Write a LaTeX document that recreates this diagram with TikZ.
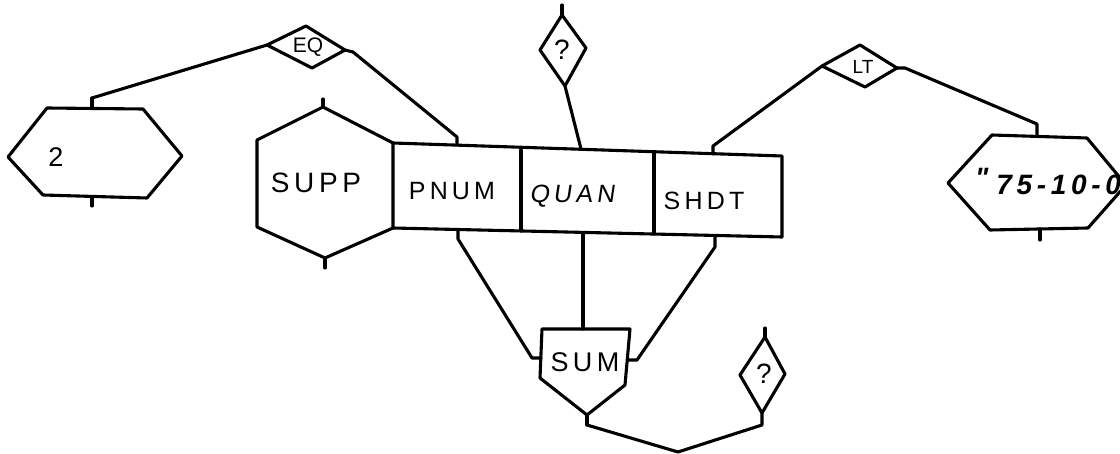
\documentclass[tikz,border=0pt]{standalone}
\usepackage{fontspec}
\setmainfont{Liberation Sans}
\begin{document}
\begin{tikzpicture}[x=1pt,y=-1pt,
  pen/.style={line width=3.1pt, line join=round, line cap=round},
  lbl/.style={inner sep=0pt, font=\fontsize{#1}{#1}\selectfont},
  lbl/.default=25]
\useasboundingbox (0,0) rectangle (1120,454);

% ---- constant hexagon "2"
\coordinate (c2w) at (8,157);   \coordinate (c2nw) at (47,108);
\coordinate (c2ne) at (143,109);\coordinate (c2e) at (182,156);
\coordinate (c2se) at (147,198);\coordinate (c2sw) at (43,195);
\coordinate (c2t) at (92,108);  \coordinate (c2tp) at (92,98);
\coordinate (c2b) at (92,197);  \coordinate (c2bp) at (92,206);
\draw[pen] (c2w)--(c2nw)--(c2ne)--(c2e)--(c2se)--(c2sw)--cycle;
\draw[pen] (c2t)--(c2tp); \draw[pen] (c2b)--(c2bp);
\node[lbl=27] (two) at (56,157) {2};

% ---- comparison diamond EQ
\coordinate (eqw) at (267,45); \coordinate (eqn) at (306,26);
\coordinate (eqe) at (345,50); \coordinate (eqs) at (312,68);
\coordinate (eqep) at (353,52);
\draw[pen] (eqw)--(eqn)--(eqe)--(eqs)--cycle;
\node[lbl=21] (eq) at (308,47) {EQ};

% ---- relation SUPP
\coordinate (sn) at (323,107); \coordinate (sne) at (393,143);
\coordinate (sse) at (393,228);\coordinate (ss) at (325,258);
\coordinate (ssw) at (257,227);\coordinate (snw) at (257,140);
\draw[pen] (sn)--(sne)--(sse)--(ss)--(ssw)--(snw)--cycle;
\coordinate (snp) at (323,99); \coordinate (ssp) at (325,268);
\draw[pen] (sn)--(snp); \draw[pen] (ss)--(ssp);
\node[lbl=28] (supp) at (316,183) {S\,U\,P\,P};

% ---- attribute table
\coordinate (tne) at (782,156); \coordinate (tse) at (782,237);
\coordinate (d1t) at (521,150); \coordinate (d1b) at (521,231);
\coordinate (d2t) at (654,153); \coordinate (d2b) at (654,234);
\draw[pen] (sne)--(tne)--(tse)--(sse);
\draw[pen] (d1t)--(d1b); \draw[pen] (d2t)--(d2b);
\node[lbl] (pnum) at (452,191) {P\,N\,U\,M};
\node[lbl] (quan) at (572,196) {\addfontfeatures{FakeSlant=0.15}Q\,U\,A\,N};
\node[lbl] (shdt) at (704,201) {S\,H\,D\,T};

% ---- stubs on the table
\coordinate (pnt) at (457,145); \coordinate (pntp) at (457,137);
\coordinate (qnt) at (581,149);
\coordinate (sht) at (713,154); \coordinate (shtp) at (713,146);
\coordinate (pnb) at (458,230); \coordinate (pnbp) at (458,239);
\coordinate (qnb) at (583,233);
\coordinate (shb) at (715,236); \coordinate (shbp) at (715,247);

% ---- question diamond above QUAN
\coordinate (q1n) at (562,15); \coordinate (q1e) at (586,48);
\coordinate (q1s) at (565,86); \coordinate (q1w) at (540,50);
\coordinate (q1np) at (562,5);
\draw[pen] (q1n)--(q1e)--(q1s)--(q1w)--cycle;
\draw[pen] (q1n)--(q1np);
\node[lbl=28] (q1) at (562,50) {?};

% ---- comparison diamond LT
\coordinate (ltw) at (822,66); \coordinate (ltn) at (860,45);
\coordinate (lte) at (897,68); \coordinate (lts) at (865,87);
\coordinate (ltep) at (905,68);
\draw[pen] (ltw)--(ltn)--(lte)--(lts)--cycle;
\node[lbl=19] (lt) at (863,67) {LT};

% ---- constant hexagon date
\coordinate (dw) at (948,183);  \coordinate (dnw) at (992,135);
\coordinate (dne) at (1087,138);\coordinate (de) at (1126,185);
\coordinate (dse) at (1088,228);\coordinate (dsw) at (990,230);
\coordinate (dt) at (1037,136); \coordinate (dtp) at (1037,124);
\coordinate (db) at (1040,229); \coordinate (dbp) at (1040,240);
\draw[pen] (dw)--(dnw)--(dne)--(de)--(dse)--(dsw)--cycle;
\draw[pen] (db)--(dbp);
\node[lbl=28, anchor=base west, font=\fontsize{28}{28}\selectfont\bfseries\itshape]
  (date) at (975,195)
  {\raisebox{7pt}{\textquotedbl}\hspace{8pt}7\,5\,-\,1\,0\,-\,0};

% ---- aggregate SUM
\coordinate (mnw) at (542,329); \coordinate (mne) at (630,329);
\coordinate (mse) at (625,385); \coordinate (ms) at (587,415);
\coordinate (msw) at (540,378); \coordinate (mt) at (583,329);
\coordinate (mw) at (541,358);  \coordinate (me) at (628,360);
\coordinate (msp) at (587,425);
\draw[pen] (mnw)--(mne)--(mse)--(ms)--(msw)--cycle;
\draw[pen] (ms)--(msp);
\node[lbl=27] (sum) at (585,362) {S\,U\,M};

% ---- question diamond below right
\coordinate (q2n) at (765,337); \coordinate (q2e) at (785,374);
\coordinate (q2s) at (762,413); \coordinate (q2w) at (740,375);
\coordinate (q2np) at (765,328); \coordinate (q2sp) at (762,425);
\draw[pen] (q2n)--(q2e)--(q2s)--(q2w)--cycle;
\draw[pen] (q2n)--(q2np);
\node[lbl=28] (q2) at (764,374) {?};

% ---- connectors
\draw[pen] (c2t)--(c2tp)--(eqw);
\draw[pen] (eqe)--(eqep)--(pntp)--(pnt);
\draw[pen] (q1s)--(qnt);
\draw[pen] (sht)--(shtp)--(ltw);
\draw[pen] (lte)--(ltep)--(dtp)--(dt);
\draw[pen] (pnb)--(pnbp)--(532,358)--(mw);
\draw[pen] (qnb)--(mt);
\draw[pen] (shb)--(shbp)--(637,360)--(me);
\draw[pen] (msp)--(678,452)--(q2sp)--(q2s);
\end{tikzpicture}
\end{document}
